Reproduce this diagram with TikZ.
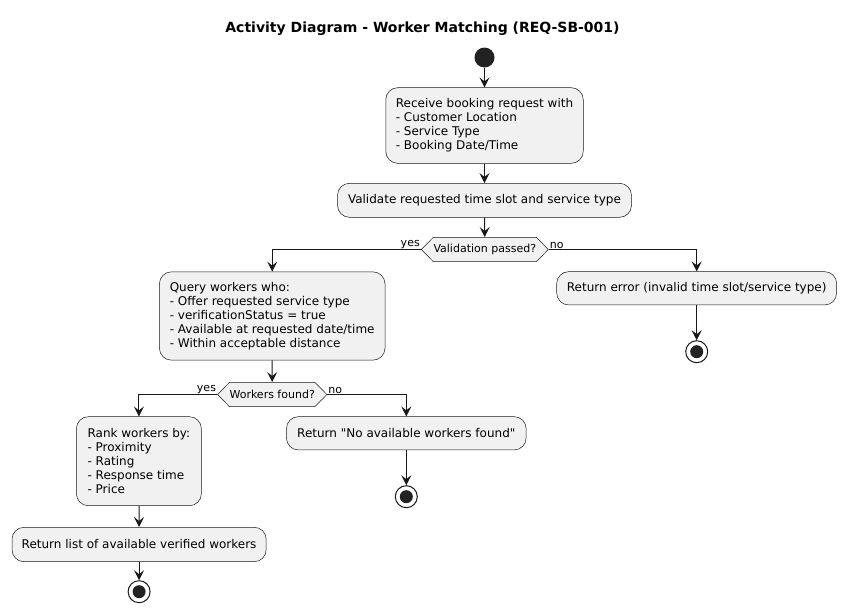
\documentclass[tikz,border=0pt]{standalone}
\usepackage{fontspec}
\setmainfont{DejaVu Sans}
\usetikzlibrary{arrows.meta,shapes.symbols}

\definecolor{boxfill}{HTML}{F1F1F1}
\definecolor{boxline}{HTML}{181818}
\definecolor{dotfill}{HTML}{222222}

\begin{document}
\begin{tikzpicture}[x=1pt, y=-1pt, >={Stealth[length=10pt,width=10pt,inset=4pt]},
    act/.style={rectangle, rounded corners=12pt, draw=boxline, fill=boxfill, line width=0.5pt,
        align=left, inner sep=0pt, font=\fontsize{12}{14}\selectfont},
    decision/.style={signal, signal to=west and east, signal pointer angle=91, draw=boxline,
        fill=boxfill, line width=0.5pt, inner sep=0pt, minimum height=24.4pt,
        font=\fontsize{11}{13}\selectfont},
    startdot/.style={circle, fill=dotfill, minimum size=20pt, inner sep=0pt},
    stopdot/.style={circle, draw=boxline, fill=white, line width=1pt, minimum size=22pt, inner sep=0pt,
        path picture={\fill[dotfill] (path picture bounding box.center) circle (6.5pt);}},
    branch/.style={font=\fontsize{11}{13}\selectfont, inner sep=1pt},
    flow/.style={->, line width=1pt, draw=boxline}]
    \useasboundingbox (0,0) rectangle (847,613);

    % title
    \node[font=\fontsize{14}{16}\bfseries\selectfont] (title) at (422.5,28.5) {Activity Diagram - Worker Matching (REQ-SB-001)};

    % main flow
    \node[startdot] (start) at (484.5,57.5) {};
    \node[act, minimum width=197.5pt, minimum height=75.6pt] (receive) at (484.5,125.5)
        {Receive booking request with\\- Customer Location\\- Service Type\\- Booking Date/Time};
    \node[act, minimum width=294pt, minimum height=34pt] (validate) at (484.5,200.3)
        {Validate requested time slot and service type};
    \node[decision, minimum width=127pt] (valid) at (484.8,249.5) {Validation passed?};

    % validation failed
    \node[act, minimum width=280pt, minimum height=33.3pt] (error) at (696.7,288.3)
        {Return error (invalid time slot/service type)};
    \node[stopdot] (stopA) at (696.7,351.7) {};

    % query workers
    \node[act, minimum width=225.6pt, minimum height=88.3pt] (query) at (272.2,316)
        {Query workers who:\\- Offer requested service type\\- verificationStatus = true\\- Available at requested date/time\\- Within acceptable distance};
    \node[decision, minimum width=109pt] (found) at (272.2,394.5) {Workers found?};

    % no workers
    \node[act, minimum width=239.7pt, minimum height=33.3pt] (none) at (406.3,433.3)
        {Return \textquotedbl No available workers found\textquotedbl};
    \node[stopdot] (stopB) at (406.3,496.7) {};

    % rank and return
    \node[act, minimum width=125pt, minimum height=89pt] (rank) at (138.9,461.2)
        {Rank workers by:\\- Proximity\\- Rating\\- Response time\\- Price};
    \node[act, minimum width=254.2pt, minimum height=34.4pt] (result) at (139.1,544.5)
        {Return list of available verified workers};
    \node[stopdot] (stopC) at (139.1,591.7) {};

    % straight arrows
    \foreach \a/\b in {start/receive, receive/validate, validate/valid, query/found,
        error/stopA, none/stopB, rank/result, result/stopC} {
        \draw[flow] (\a) -- (\b);
    }

    % branches
    \draw[flow] (valid.west) -| (query.north);
    \draw[flow] (valid.east) -| (error.north);
    \draw[flow] (found.west) -| (rank.north);
    \draw[flow] (found.east) -| (none.north);
    \node[branch, anchor=south east] (yesA) at (valid.west) {yes};
    \node[branch, anchor=south west] (noA) at (valid.east) {no};
    \node[branch, anchor=south east] (yesB) at (found.west) {yes};
    \node[branch, anchor=south west] (noB) at (found.east) {no};
\end{tikzpicture}
\end{document}
